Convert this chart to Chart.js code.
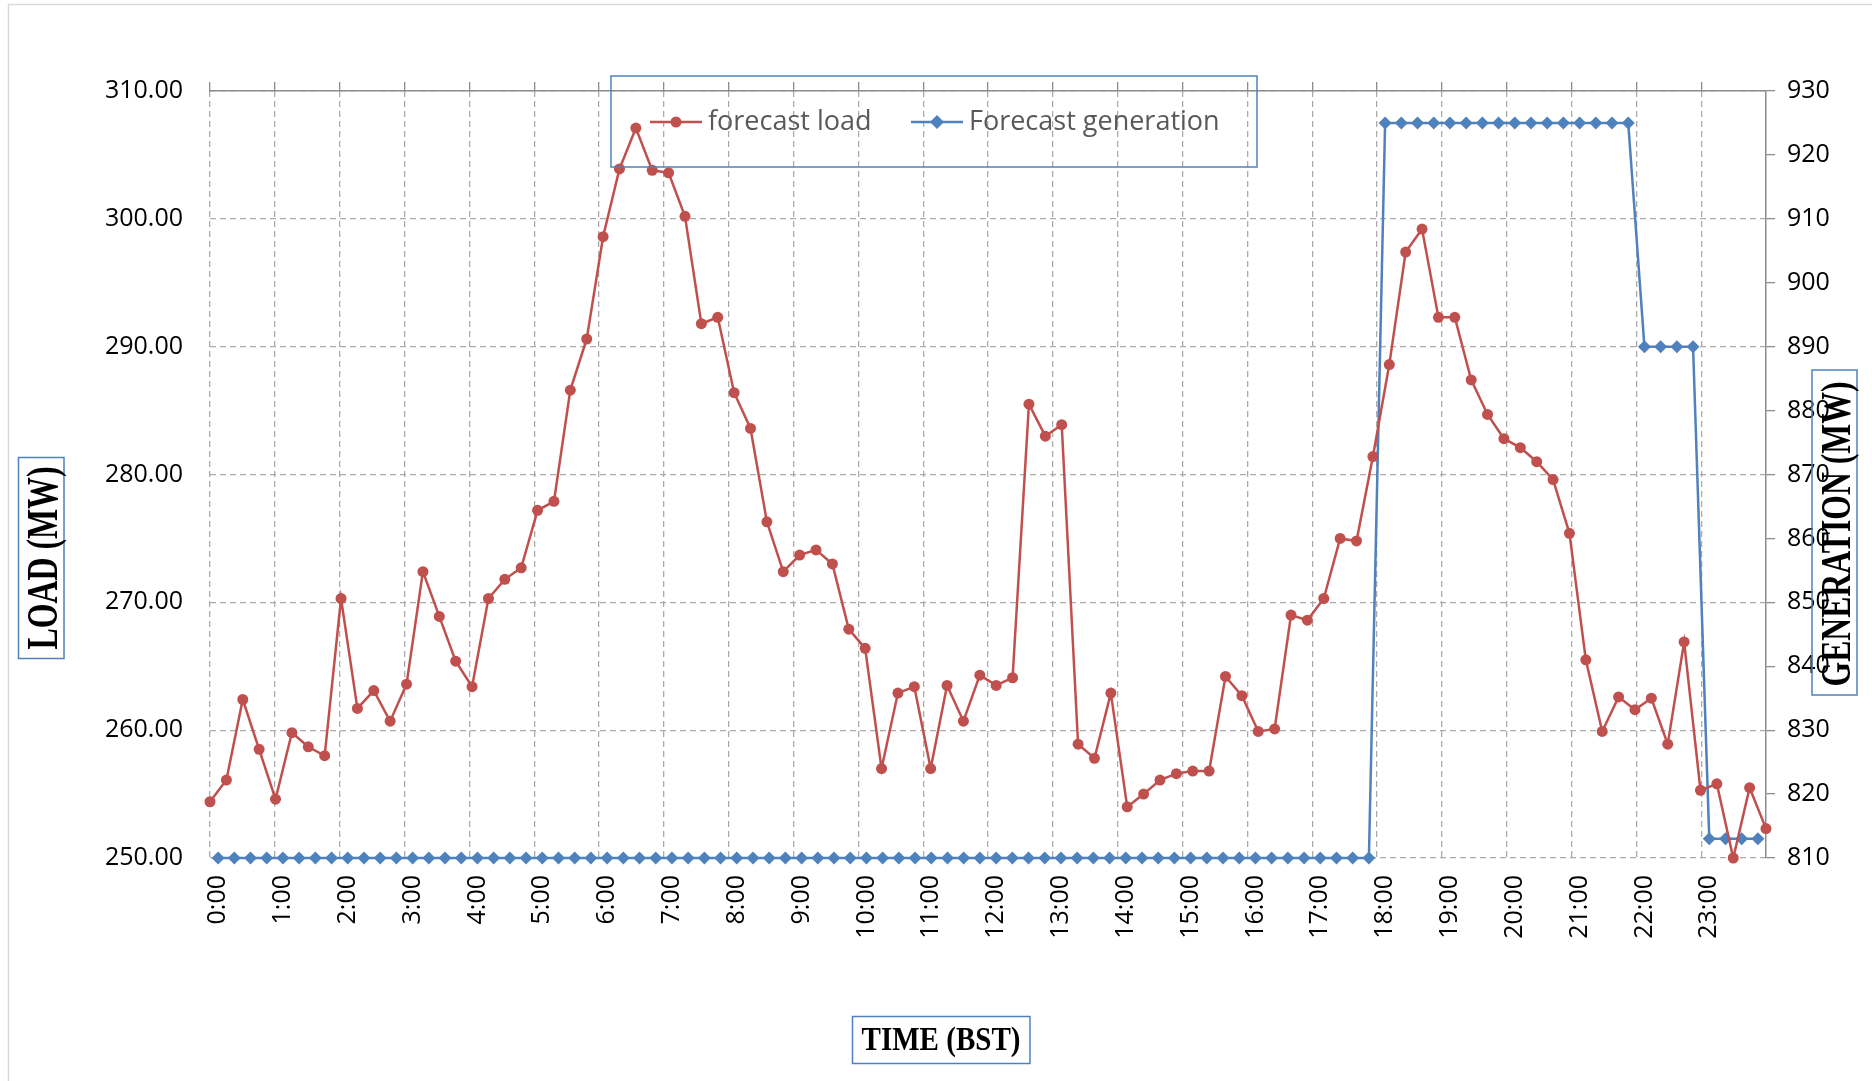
<!DOCTYPE html>
<html>
<head>
<meta charset="utf-8">
<title>Forecast load x Forecast generation</title>
<script src="https://cdn.jsdelivr.net/npm/chart.js@4.4.1/dist/chart.umd.min.js"></script>
<style>
  html, body { margin: 0; padding: 0; background: #fff; }
  canvas { display: block; }
</style>
</head>
<body>
<canvas id="grafico" width="1872" height="1081"></canvas>
<script>
// horarios de 15 em 15 minutos (96 intervalos)
const horas = [
  "0:00", "1:00", "2:00", "3:00", "4:00", "5:00", "6:00", "7:00",
  "8:00", "9:00", "10:00", "11:00", "12:00", "13:00", "14:00", "15:00",
  "16:00", "17:00", "18:00", "19:00", "20:00", "21:00", "22:00", "23:00"
];
const minutos = ["00", "15", "30", "45"];
let horarios = [];
horas.forEach(h => minutos.forEach(m => horarios.push(h.replace(":00", ":" + m))));

// forecast load (MW) - eixo esquerdo
const cargaPrevista = [
  254.4, 256.1, 262.4, 258.5, 254.6, 259.8, 258.7, 258.0,
  270.3, 261.7, 263.1, 260.7, 263.6, 272.4, 268.9, 265.4,
  263.4, 270.3, 271.8, 272.7, 277.2, 277.9, 286.6, 290.6,
  298.6, 303.9, 307.1, 303.8, 303.6, 300.2, 291.8, 292.3,
  286.4, 283.6, 276.3, 272.4, 273.7, 274.1, 273.0, 267.9,
  266.4, 257.0, 262.9, 263.4, 257.0, 263.5, 260.7, 264.3,
  263.5, 264.1, 285.5, 283.0, 283.9, 258.9, 257.8, 262.9,
  254.0, 255.0, 256.1, 256.6, 256.8, 256.8, 264.2, 262.7,
  259.9, 260.1, 269.0, 268.6, 270.3, 275.0, 274.8, 281.4,
  288.6, 297.4, 299.2, 292.3, 292.3, 287.4, 284.7, 282.8,
  282.1, 281.0, 279.6, 275.4, 265.5, 259.9, 262.6, 261.6,
  262.5, 258.9, 266.9, 255.3, 255.8, 250.0, 255.5, 252.3
];

// Forecast generation (MW) - eixo direito
const geracaoPrevista = [
  810, 810, 810, 810, 810, 810, 810, 810,
  810, 810, 810, 810, 810, 810, 810, 810,
  810, 810, 810, 810, 810, 810, 810, 810,
  810, 810, 810, 810, 810, 810, 810, 810,
  810, 810, 810, 810, 810, 810, 810, 810,
  810, 810, 810, 810, 810, 810, 810, 810,
  810, 810, 810, 810, 810, 810, 810, 810,
  810, 810, 810, 810, 810, 810, 810, 810,
  810, 810, 810, 810, 810, 810, 810, 810,
  925, 925, 925, 925, 925, 925, 925, 925,
  925, 925, 925, 925, 925, 925, 925, 925,
  890, 890, 890, 890, 813, 813, 813, 813
];

const corCarga = "#C0504D";
const corGeracao = "#4F81BD";
const corGrade = "#ABABAB";
const corEixo = "#8C8C8C";

Chart.defaults.font.family = '"Open Sans", sans-serif';
Chart.defaults.font.size = 25;
Chart.defaults.color = "#000";

function caixaTitulo(ctx, texto, tx, ty, angulo, tamanho, comprimento, caixa) {
  ctx.save();
  ctx.strokeStyle = corGeracao;
  ctx.lineWidth = 1.5;
  ctx.strokeRect(caixa[0], caixa[1], caixa[2], caixa[3]);
  ctx.font = `bold ${tamanho}px "Liberation Serif", "Times New Roman", serif`;
  const w = ctx.measureText(texto).width;
  ctx.translate(tx, ty);
  ctx.rotate(angulo);
  ctx.scale(comprimento / w, 1);
  ctx.fillStyle = "#000";
  ctx.textAlign = "center";
  ctx.textBaseline = "middle";
  ctx.fillText(texto, 0, 0);
  ctx.restore();
}

function marcador(ctx, estilo, x, y, cor) {
  ctx.fillStyle = cor;
  ctx.beginPath();
  if (estilo === "rectRot") {
    ctx.moveTo(x, y - 7);
    ctx.lineTo(x + 7, y);
    ctx.lineTo(x, y + 7);
    ctx.lineTo(x - 7, y);
    ctx.closePath();
  } else {
    ctx.arc(x, y, 5.5, 0, Math.PI * 2);
  }
  ctx.fill();
}

function desenharLegenda(chart) {
  const ctx = chart.ctx;
  ctx.save();
  ctx.strokeStyle = corGeracao;
  ctx.lineWidth = 1.5;
  ctx.strokeRect(611, 76, 646, 91);
  ctx.font = '27px "Open Sans", sans-serif';
  ctx.textBaseline = "middle";
  const posicoes = [650, 911];
  chart.data.datasets.forEach((ds, i) => {
    const x = posicoes[i];
    const y = 122;
    ctx.strokeStyle = ds.borderColor;
    ctx.lineWidth = 2.5;
    ctx.beginPath();
    ctx.moveTo(x, y);
    ctx.lineTo(x + 52, y);
    ctx.stroke();
    marcador(ctx, ds.pointStyle, x + 26, y, ds.borderColor);
    ctx.fillStyle = "#595959";
    ctx.fillText(ds.label, x + 58, y);
  });
  ctx.restore();
}

const molduraETitulos = {
  id: "molduraETitulos",
  beforeDraw(chart) {
    const ctx = chart.ctx;
    ctx.save();
    ctx.fillStyle = "#fff";
    ctx.fillRect(0, 0, chart.width, chart.height);
    ctx.strokeStyle = "#D9D9D9";
    ctx.lineWidth = 1.5;
    ctx.strokeRect(8.5, 4.5, chart.width + 20, chart.height + 20);
    ctx.restore();
  },
  afterDraw(chart) {
    const ctx = chart.ctx;
    caixaTitulo(ctx, "LOAD (MW)", 46, 558, -Math.PI / 2, 44, 183, [18.5, 457.5, 45.5, 201]);
    caixaTitulo(ctx, "GENERATION (MW)", 1839, 534, -Math.PI / 2, 42, 305, [1812, 370, 45, 325]);
    caixaTitulo(ctx, "TIME (BST)", 941, 1041, 0, 33, 159, [852.5, 1016.5, 177.5, 47]);
    desenharLegenda(chart);
  }
};

const grafico = new Chart(document.getElementById("grafico"), {
  type: "line",
  data: {
    labels: horarios,
    datasets: [
      {
        label: "forecast load",
        data: cargaPrevista,
        xAxisID: "xCarga",
        yAxisID: "y",
        borderColor: corCarga,
        backgroundColor: corCarga,
        borderWidth: 2.5,
        pointStyle: "circle",
        pointRadius: 5.5,
        pointBorderWidth: 0,
        tension: 0,
        clip: false,
        order: 1
      },
      {
        label: "Forecast generation",
        data: geracaoPrevista,
        xAxisID: "x",
        yAxisID: "y2",
        borderColor: corGeracao,
        backgroundColor: corGeracao,
        borderWidth: 2.5,
        pointStyle: "rectRot",
        pointRadius: 6.5,
        pointBorderWidth: 0,
        tension: 0,
        clip: false,
        order: 2
      }
    ]
  },
  options: {
    responsive: false,
    animation: false,
    layout: { padding: 0 },
    plugins: {
      legend: { display: false },
      tooltip: { enabled: false }
    },
    scales: {
      x: {
        type: "category",
        position: "bottom",
        offset: true,
        afterFit: (s) => { s.height = 223; },
        grid: {
          offset: true,
          drawTicks: false,
          lineWidth: 1.3,
          color: (c) => (c.index !== undefined && c.index % 4 === 0) ? corGrade : "transparent"
        },
        border: { display: false, dash: [6, 4] },
        ticks: {
          autoSkip: false,
          maxRotation: 90,
          minRotation: 90,
          padding: 17,
          callback: function (valor, i) {
            return i % 4 === 0 ? this.getLabelForValue(valor) : "";
          }
        }
      },
      xTopo: {
        type: "category",
        position: "top",
        offset: true,
        afterFit: (s) => { s.height = 91; },
        grid: {
          offset: true,
          drawOnChartArea: false,
          tickLength: 9,
          lineWidth: 1.3,
          color: (c) => (c.index !== undefined && c.index % 4 === 0) ? corEixo : "transparent"
        },
        border: { display: true, color: corEixo, width: 1.5 },
        ticks: { display: false }
      },
      xCarga: {
        type: "category",
        offset: false,
        display: false
      },
      y: {
        position: "left",
        min: 250,
        max: 310,
        afterFit: (s) => { s.width = 210; },
        grid: { color: corGrade, lineWidth: 1.3, drawTicks: false },
        border: { display: false, dash: [6, 4] },
        ticks: {
          stepSize: 10,
          padding: 27,
          callback: (v) => v.toFixed(2)
        }
      },
      y2: {
        position: "right",
        min: 810,
        max: 930,
        afterFit: (s) => { s.width = 106; },
        grid: { drawOnChartArea: false, tickLength: 9, color: corEixo, lineWidth: 1.3 },
        border: { display: true, color: corEixo, width: 1.5 },
        ticks: { stepSize: 10, padding: 12 }
      }
    }
  },
  plugins: [molduraETitulos]
});
</script>
</body>
</html>
